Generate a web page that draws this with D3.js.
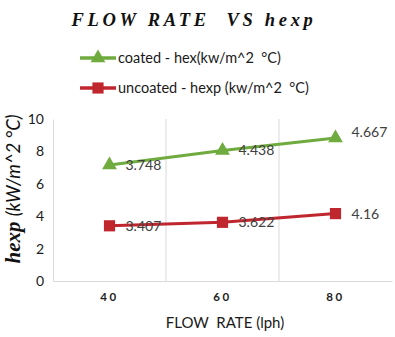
<!DOCTYPE html>
<html>
<head>
<meta charset="utf-8">
<script src="https://cdn.jsdelivr.net/npm/d3@7"></script>
<style>
  html, body { margin: 0; padding: 0; background: #fff; }
  svg { display: block; }
  text { white-space: pre; }
</style>
</head>
<body>
<svg id="chart" width="395" height="337"></svg>
<script>
// Flow rate categories (lph)
const flowRates = ["40", "60", "80"];
// Heat transfer coefficient values (kW/m^2 °C)
const uncoated = [3.407, 3.622, 4.16];
const coated = [3.748, 4.438, 4.667];
const yTicks = [0, 2, 4, 6, 8, 10];
const seriesNames = ["uncoated - hexp (kw/m^2  \u00B0C)", "coated - hex(kw/m^2  \u00B0C)"];

const svg = d3.select("#chart");
const W = 395, H = 337;
const margin = { left: 53, right: 3, top: 119, bottom: 56 };

const x = d3.scaleBand().domain(flowRates).range([margin.left, W - margin.right]);
const y = d3.scaleLinear().domain([0, 10]).range([H - margin.bottom, margin.top]);

const green = "#6FAB3F";
const red = "#C0262E";
const font = "Lato, 'Open Sans', sans-serif";

// Stacked layout: the coated series sits on top of the uncoated one
const rows = flowRates.map((f, i) => ({ f, uncoated: uncoated[i], coated: coated[i] }));
const stack = d3.stack().keys(["uncoated", "coated"]);
const layers = stack(rows);

// Title
svg.append("text")
  .attr("x", 194).attr("y", 26)
  .attr("text-anchor", "middle")
  .attr("font-family", "'Liberation Serif', 'DejaVu Serif', serif")
  .attr("font-style", "italic").attr("font-weight", "bold")
  .attr("font-size", 18.5).attr("letter-spacing", 3.7)
  .attr("fill", "#111")
  .text("FLOW RATE  VS hexp");

// Vertical gridlines at category boundaries
const bounds = flowRates.slice(1).map(f => x(f));
svg.append("g").selectAll("line").data(bounds).join("line")
  .attr("x1", d => d).attr("x2", d => d)
  .attr("y1", y(10)).attr("y2", y(0))
  .attr("stroke", "#d9d9d9").attr("stroke-width", 1);

// Axes
const yAxis = d3.axisLeft(y).tickValues(yTicks).tickSize(0).tickPadding(9);
const gy = svg.append("g").attr("transform", `translate(${margin.left},0)`).call(yAxis);
gy.select(".domain").attr("stroke", "#d9d9d9");
gy.selectAll("text").attr("font-family", font).attr("font-size", 14).attr("fill", "#1a1a1a");

const xAxis = d3.axisBottom(x).tickSize(0).tickPadding(12);
const gx = svg.append("g").attr("transform", `translate(0,${y(0)})`).call(xAxis);
gx.select(".domain").attr("stroke", "#d9d9d9");
gx.selectAll("text").attr("font-family", font).attr("font-size", 11.5)
  .attr("font-weight", "bold").attr("letter-spacing", 2.5).attr("fill", "#222");

// Axis titles
svg.append("text")
  .attr("x", 225).attr("y", 328)
  .attr("text-anchor", "middle")
  .attr("font-family", font).attr("font-size", 15).attr("fill", "#1a1a1a")
  .text("FLOW  RATE (lph)");

const yTitle = svg.append("text")
  .attr("transform", `translate(20,189) rotate(-90)`)
  .attr("text-anchor", "middle")
  .attr("font-family", "'Liberation Serif', 'DejaVu Serif', serif")
  .attr("font-style", "italic").attr("fill", "#111");
yTitle.append("tspan").attr("font-weight", "bold").attr("font-size", 21).text("hexp ");
yTitle.append("tspan").attr("font-family", font).attr("font-size", 18.5).text("(kW/m^2 \u00B0C)");

// Series lines, markers and labels
const cx = f => x(f) + x.bandwidth() / 2;
const line = d3.line().x(d => cx(d.data.f)).y(d => y(d[1]));
const colors = [red, green];
const tri = d3.symbol().type(d3.symbolTriangle).size(95);
const sq = d3.symbol().type(d3.symbolSquare).size(125);

layers.forEach((layer, li) => {
  const g = svg.append("g");
  g.append("path").datum(layer)
    .attr("d", line).attr("fill", "none")
    .attr("stroke", colors[li]).attr("stroke-width", 3);
  g.selectAll("path.m").data(layer).join("path").attr("class", "m")
    .attr("transform", d => `translate(${cx(d.data.f)},${y(d[1])})`)
    .attr("d", li === 0 ? sq() : tri())
    .attr("fill", colors[li]);
  g.selectAll("text").data(layer).join("text")
    .attr("x", d => cx(d.data.f) + 16)
    .attr("y", d => y(d[1]) + (li === 1 && d.data.f === "80" ? -1 : 5))
    .attr("font-family", font).attr("font-size", 14).attr("fill", "#404040")
    .text(d => li === 0 ? d.data.uncoated : d.data.coated);
});

// Legend
const legend = svg.append("g");
[1, 0].forEach((si, i) => {
  const ly = 58 + i * 30;
  legend.append("line").attr("x1", 80).attr("x2", 116).attr("y1", ly).attr("y2", ly)
    .attr("stroke", colors[si]).attr("stroke-width", 3.5);
  legend.append("path").attr("transform", `translate(98,${ly})`)
    .attr("d", si === 0 ? sq() : tri()).attr("fill", colors[si]);
  legend.append("text").attr("x", 118).attr("y", ly + 5)
    .attr("font-family", font).attr("font-size", 14.5).attr("fill", "#1a1a1a")
    .text(seriesNames[si]);
});
</script>
</body>
</html>
